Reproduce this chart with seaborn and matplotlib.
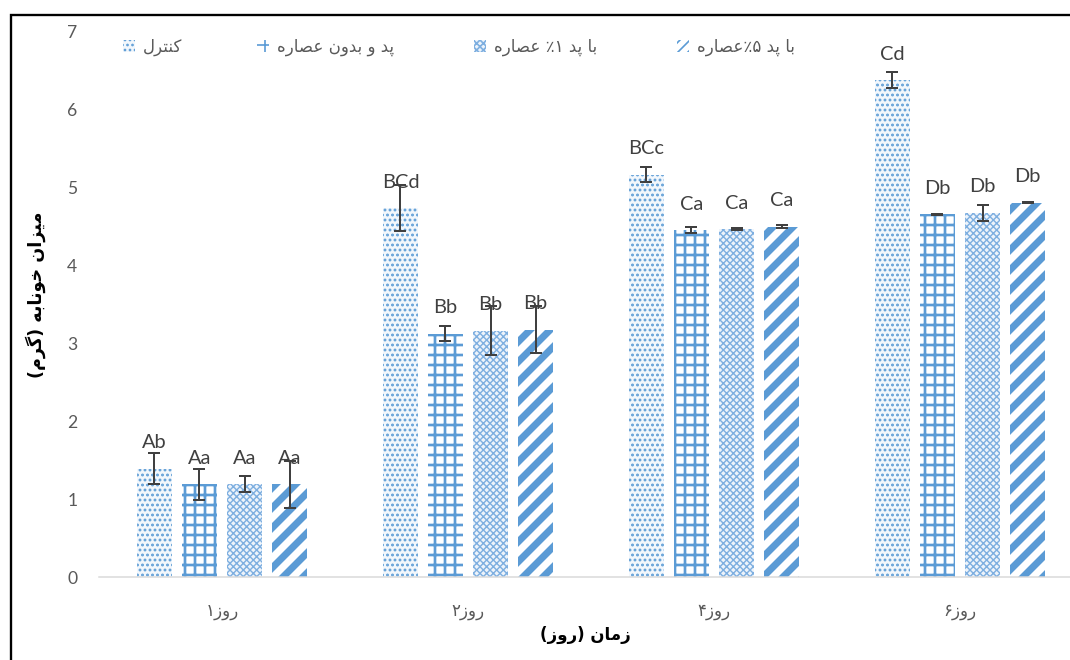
import matplotlib
matplotlib.use("Agg")
import matplotlib.pyplot as plt
from matplotlib.patches import Rectangle
from matplotlib.font_manager import FontProperties
import pandas as pd
import seaborn as sns

# ---- data ----
days = ["روز۱", "روز۲", "روز۴", "روز۶"]
treatments = ["کنترل", "پد و بدون عصاره", "با پد ۱٪ عصاره", "با پد ۵٪عصاره"]

control = [1.39, 4.73, 5.16, 6.37]
pad_plain = [1.19, 3.12, 4.45, 4.65]
pad_1 = [1.19, 3.16, 4.46, 4.67]
pad_5 = [1.19, 3.17, 4.49, 4.80]

control_err = [0.20, 0.30, 0.10, 0.10]
pad_plain_err = [0.20, 0.10, 0.04, 0.01]
pad_1_err = [0.10, 0.31, 0.01, 0.10]
pad_5_err = [0.30, 0.30, 0.02, 0.01]

control_letters = ["Ab", "BCd", "BCc", "Cd"]
pad_plain_letters = ["Aa", "Bb", "Ca", "Db"]
pad_1_letters = ["Aa", "Bb", "Ca", "Db"]
pad_5_letters = ["Aa", "Bb", "Ca", "Db"]

y_ticks = [0, 1, 2, 3, 4, 5, 6, 7]
x_title = "زمان (روز)"
y_title = "میزان خونابه (گرم)"

# ---- minimal Persian shaping (presentation forms, visual order) ----
FORMS = {
    "ا": (0xFE8D, 0xFE8E),
    "ب": (0xFE8F, 0xFE90, 0xFE91, 0xFE92),
    "پ": (0xFB56, 0xFB57, 0xFB58, 0xFB59),
    "ت": (0xFE95, 0xFE96, 0xFE97, 0xFE98),
    "خ": (0xFEA5, 0xFEA6, 0xFEA7, 0xFEA8),
    "د": (0xFEA9, 0xFEAA),
    "ر": (0xFEAD, 0xFEAE),
    "ز": (0xFEAF, 0xFEB0),
    "ص": (0xFEB9, 0xFEBA, 0xFEBB, 0xFEBC),
    "ع": (0xFEC9, 0xFECA, 0xFECB, 0xFECC),
    "ک": (0xFB8E, 0xFB8F, 0xFB90, 0xFB91),
    "گ": (0xFB92, 0xFB93, 0xFB94, 0xFB95),
    "ل": (0xFEDD, 0xFEDE, 0xFEDF, 0xFEE0),
    "م": (0xFEE1, 0xFEE2, 0xFEE3, 0xFEE4),
    "ن": (0xFEE5, 0xFEE6, 0xFEE7, 0xFEE8),
    "ه": (0xFEE9, 0xFEEA, 0xFEEB, 0xFEEC),
    "و": (0xFEED, 0xFEEE),
    "ی": (0xFBFC, 0xFBFD, 0xFBFE, 0xFBFF),
}


def fa(text):
    chars = list(text)
    out = []
    for i, ch in enumerate(chars):
        forms = FORMS.get(ch)
        if forms is None:
            out.append(ch)
            continue
        prev = chars[i - 1] if i > 0 else None
        nxt = chars[i + 1] if i + 1 < len(chars) else None
        join_prev = prev in FORMS and len(FORMS[prev]) == 4
        join_next = len(forms) == 4 and nxt in FORMS
        if join_prev and join_next:
            code = forms[3]
        elif join_prev:
            code = forms[1]
        elif join_next:
            code = forms[2]
        else:
            code = forms[0]
        out.append(chr(code))
    mirror = {"(": ")", ")": "("}
    return "".join(mirror.get(c, c) for c in reversed(out))


# ---- long-form table ----
series = [control, pad_plain, pad_1, pad_5]
errs = [control_err, pad_plain_err, pad_1_err, pad_5_err]
letters = [control_letters, pad_plain_letters, pad_1_letters, pad_5_letters]
rows = []
for t, vals in zip(treatments, series):
    for d, v in zip(days, vals):
        rows.append({"day": d, "treatment": t, "value": v})
df = pd.DataFrame(rows)

sns.set_theme(style="white")
plt.rcParams["font.family"] = ["Lato", "DejaVu Sans"]
plt.rcParams["hatch.linewidth"] = 1.0

DPI = 120
fig = plt.figure(figsize=(1070 / DPI, 660 / DPI), dpi=DPI)
ax = fig.add_axes([99 / 1070, 83 / 660, 984 / 1070, 546 / 660])

BLUE = "#5B9BD5"
sns.barplot(data=df, x="day", y="value", hue="treatment", order=days,
            hue_order=treatments, width=0.732, gap=0.22, errorbar=None,
            palette=["white"] * 4, legend=False, ax=ax)

styles = [
    dict(hatch="....", face="#F2F7FC", color=BLUE, hlw=1.1),
    dict(hatch="++", face="white", color=BLUE, hlw=1.6),
    dict(hatch="xxxxxx", face="#EEF4FB", color="#7EAFE0", hlw=0.85),
    dict(hatch="//", face="white", color=BLUE, hlw=4.2),
]
# denser pattern variants so the small legend keys show the texture
legend_hatch = ["....", "++", "xxxxxx", "////"]
legend_hlw = [1.1, 1.6, 0.85, 2.6]


def style_patch(p, st, hatch=None, hlw=None):
    p.set_facecolor(st["face"])
    p.set_edgecolor(st["color"])
    p.set_linewidth(0)
    p.set_hatch(hatch or st["hatch"])
    if hasattr(p, "set_hatch_linewidth"):
        p.set_hatch_linewidth(hlw or st["hlw"])


for cont, st, vals, ee, labs in zip(ax.containers, styles, series, errs, letters):
    xs = []
    for p in cont.patches:
        style_patch(p, st)
        xs.append(p.get_x() + p.get_width() / 2)
    ax.errorbar(xs, vals, yerr=ee, fmt="none", ecolor="#404040",
                elinewidth=1.2, capsize=3.4, capthick=1.2, zorder=5)
    for x, v, lab in zip(xs, vals, labs):
        ax.annotate(lab, (x, v), xytext=(0, 15.5), textcoords="offset points",
                    ha="center", va="center", fontsize=12, color="#404040",
                    family=["Lato", "DejaVu Sans"], zorder=6)

# ---- axes ----
ax.set_xlim(-0.5, 3.5)
ax.set_ylim(0, 7)
ax.set_yticks(y_ticks)
ax.set_yticklabels([str(t) for t in y_ticks], fontsize=10.5, color="#595959")
ax.set_xticks(range(len(days)))
ax.set_xticklabels([fa(d) for d in days], fontsize=10, color="#595959",
                   family=["DejaVu Sans"])
ax.tick_params(axis="y", length=0, pad=13)
ax.tick_params(axis="x", length=0, pad=15)
ax.grid(False)
for s in ["left", "right", "top"]:
    ax.spines[s].set_visible(False)
ax.spines["bottom"].set_color("#D9D9D9")
ax.spines["bottom"].set_linewidth(0.9)

ax.set_xlabel(fa(x_title), fontsize=10, fontweight="bold", color="black",
              family=["DejaVu Sans"])
ax.xaxis.set_label_coords((585 - 99) / 984, -(635 - 577) / 546)
ax.xaxis.label.set_va("center")
ax.set_ylabel(fa(y_title), fontsize=10.5, fontweight="bold", color="black",
              family=["DejaVu Sans"])
ax.yaxis.set_label_coords((36 - 99) / 984, (577 - 295) / 546)
ax.yaxis.label.set_va("center")

# ---- legend: one entry per treatment along the top ----
legend_x = [123, 257, 474, 677]
prop = FontProperties(family="DejaVu Sans", size=10)
for t, st, lx, lh, lw in zip(treatments, styles, legend_x, legend_hatch, legend_hlw):
    h = Rectangle((0, 0), 1, 1)
    style_patch(h, st, hatch=lh, hlw=lw)
    leg = fig.legend(handles=[h], labels=[fa(t)], loc="center left",
                     bbox_to_anchor=(lx / 1070, 1 - 47 / 660), frameon=False,
                     handlelength=0.7, handleheight=0.7, handletextpad=0.5,
                     borderpad=0, borderaxespad=0, prop=prop)
    for txt in leg.get_texts():
        txt.set_color("#595959")

# ---- outer frame ----
fig.patches.append(Rectangle((11 / 1070, -0.1), 1.2, (660 - 15) / 660 + 0.1,
                             transform=fig.transFigure, fill=False,
                             edgecolor="black", linewidth=1.4))

fig.savefig("out.png", dpi=DPI)
